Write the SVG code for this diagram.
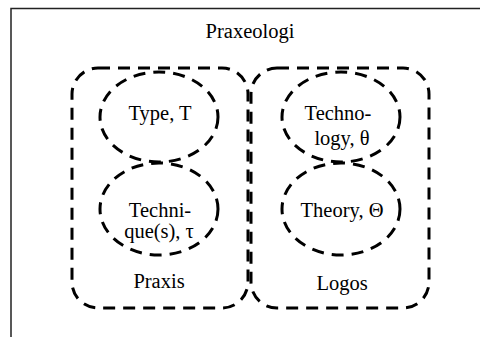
<svg xmlns="http://www.w3.org/2000/svg" width="480" height="337" viewBox="0 0 480 337">
<style>
.d{fill:none;stroke:#000;stroke-width:3;stroke-dasharray:12 8}
.t{font-family:"Liberation Serif","Times New Roman",serif;font-size:20.5px;fill:#000;text-anchor:middle}
</style>
<rect width="480" height="337" fill="#fff"/>
<g id="frame">
<path d="M11 337 V8.5 H480" fill="none" stroke="#222" stroke-width="1.5"/>
<text class="t" x="250" y="38">Praxeologi</text>
</g>
<g id="praxis">
<rect class="d" x="72" y="68" width="176" height="240" rx="26"/>
<text class="t" x="159" y="288">Praxis</text>
</g>
<g id="logos">
<rect class="d" x="251" y="68" width="178" height="240" rx="26"/>
<text class="t" x="342" y="290">Logos</text>
</g>
<g id="type">
<ellipse class="d" cx="159" cy="117" rx="59" ry="45"/>
<text class="t" x="160" y="120">Type, T</text>
</g>
<g id="technique">
<ellipse class="d" cx="159" cy="209" rx="59" ry="46"/>
<text class="t" x="160" y="217">Techni-</text>
<text class="t" x="159" y="238">que(s), τ</text>
</g>
<g id="technology">
<ellipse class="d" cx="341" cy="117" rx="59" ry="45"/>
<text class="t" x="338" y="120">Techno-</text>
<text class="t" x="342" y="145">logy, θ</text>
</g>
<g id="theory">
<ellipse class="d" cx="341" cy="209" rx="59" ry="46"/>
<text class="t" x="342" y="217">Theory, Θ</text>
</g>
</svg>
